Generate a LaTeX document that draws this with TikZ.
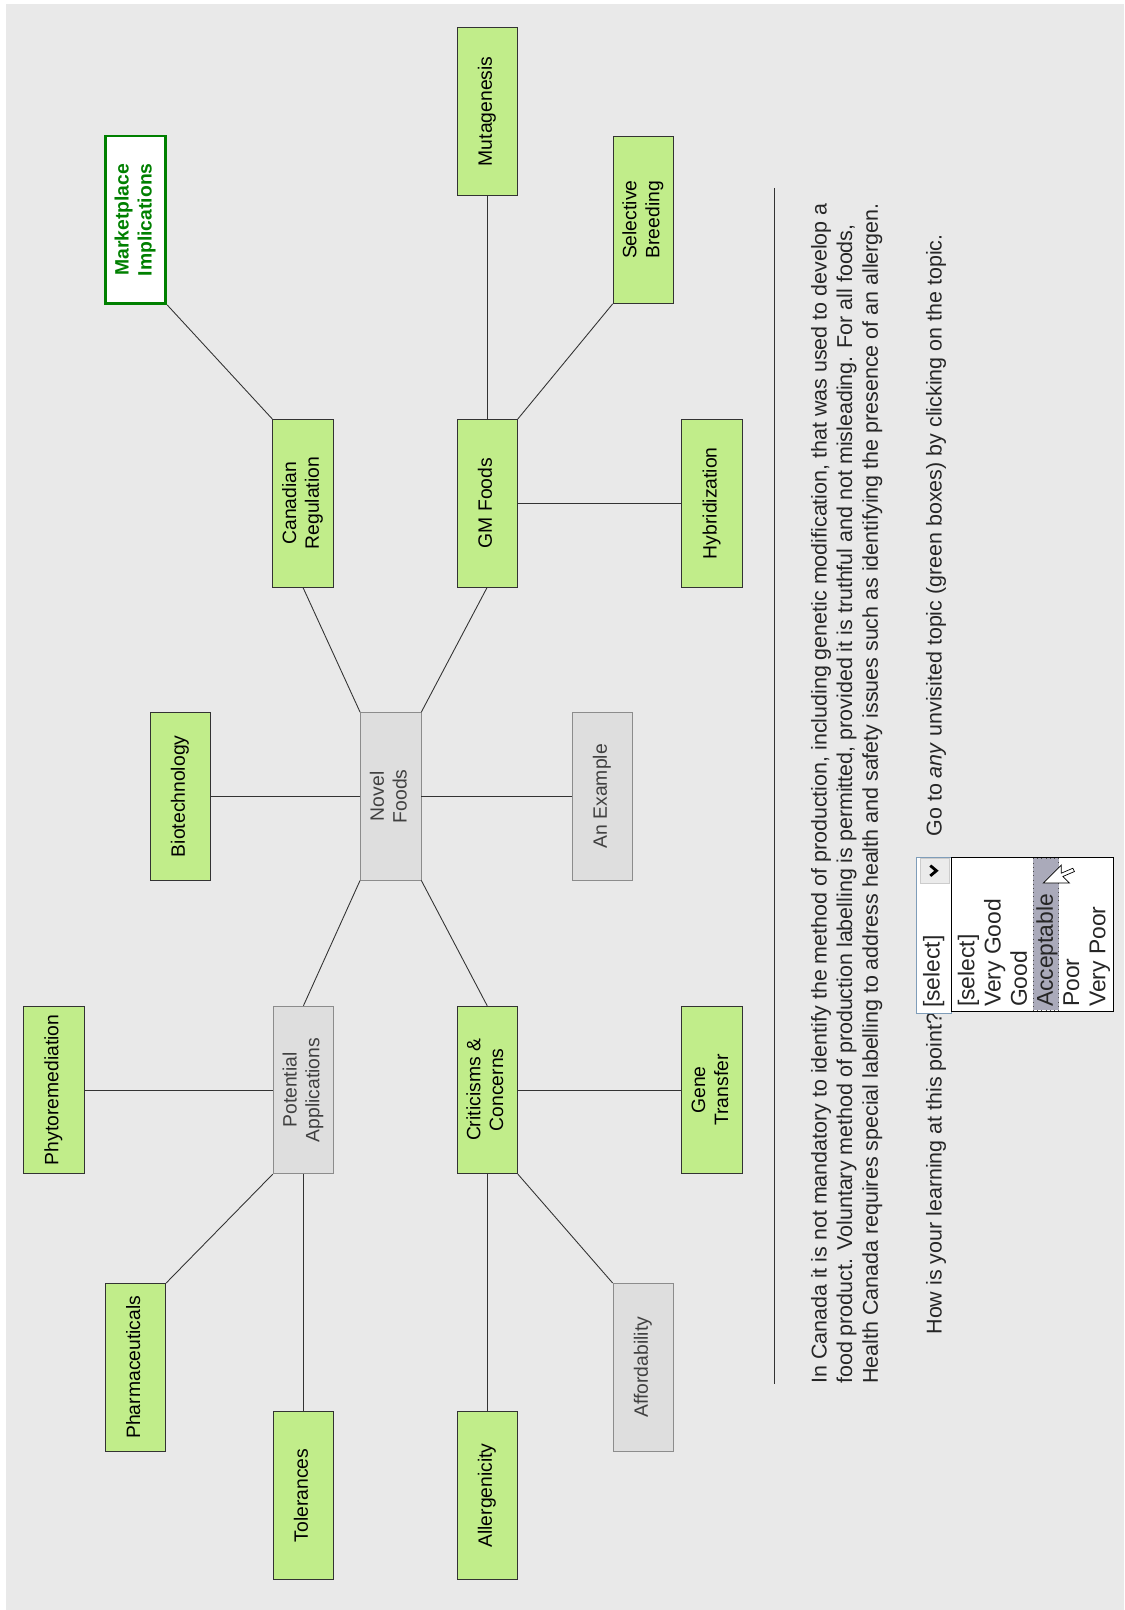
\documentclass[tikz,border=0pt]{standalone}
\usepackage{fontspec}
\setmainfont{Liberation Sans}
\usepackage{graphicx}
\definecolor{bggray}{RGB}{233,233,233}
\definecolor{leaf}{RGB}{193,237,138}
\definecolor{boxgray}{RGB}{222,222,222}
\definecolor{edgegray}{RGB}{140,140,140}
\definecolor{darkgreen}{RGB}{0,128,0}
\definecolor{selblue}{RGB}{127,157,185}
\definecolor{hilite}{RGB}{170,170,186}
\newcommand{\vlab}[1]{\rotatebox{90}{\begin{tabular}{@{}c@{}}#1\end{tabular}}}

\begin{document}
\begin{tikzpicture}[x=0.02053cm,y=-0.02053cm,
    topic/.style={draw=black!80,fill=leaf,minimum width=1.21cm,minimum height=3.35cm,inner sep=0pt,font=\fontsize{11}{13}\selectfont},
    seen/.style={topic,draw=edgegray,fill=boxgray,text=black!75},
    visit/.style={topic,draw=darkgreen,line width=1.6pt,fill=white,text=darkgreen,font=\fontsize{11}{13}\selectfont\bfseries},
    link/.style={draw=black!80,line width=0.5pt},
    para/.style={rotate=90,anchor=base west,inner sep=0pt,font=\fontsize{12.2}{14}\selectfont,text=black!85},
    pick/.style={rotate=90,anchor=base west,inner sep=0pt,font=\fontsize{13}{15}\selectfont,text=black!85}]
        \useasboundingbox[fill=white](0,0)rectangle(1095,1568);
        \path[fill=bggray](5.8,3.9)rectangle(1095,1568);
        % map
        \node[seen](novel)at(380.5,775.5){\vlab{Novel\\Foods}};
        \node[topic](biotech)at(175.5,775.5){\vlab{Biotechnology}};
        \node[seen](example)at(586.5,775.5){\vlab{An Example}};
        \node[topic](canadian)at(295,490){\vlab{Canadian\\Regulation}};
        \node[visit](market)at(132,214){\vlab{Marketplace\\Implications}};
        \node[topic](gm)at(474.5,490){\vlab{GM Foods}};
        \node[topic](muta)at(474.5,108.5){\vlab{Mutagenesis}};
        \node[topic](select)at(626.5,214){\vlab{Selective\\Breeding}};
        \node[topic](hybrid)at(693.5,490){\vlab{Hybridization}};
        \node[seen](potential)at(295.5,1061.5){\vlab{Potential\\Applications}};
        \node[topic](phyto)at(52.5,1061.5){\vlab{Phytoremediation}};
        \node[topic](pharma)at(132,1331.5){\vlab{Pharmaceuticals}};
        \node[topic](toler)at(295.5,1456.5){\vlab{Tolerances}};
        \node[topic](critic)at(474.5,1061.5){\vlab{Criticisms \&\\Concerns}};
        \node[topic](gene)at(693.5,1061.5){\vlab{Gene\\Transfer}};
        \node[seen](afford)at(626.5,1331.5){\vlab{Affordability}};
        \node[topic](allerg)at(474.5,1456.5){\vlab{Allergenicity}};
        % links
        \path[link](novel.west)to(biotech.east);
        \path[link](novel.east)to(example.west);
        \path[link](novel.north west)to(canadian.south);
        \path[link](novel.north east)to(gm.south);
        \path[link](novel.south west)to(potential.north);
        \path[link](novel.south east)to(critic.north);
        \path[link](canadian.north west)to(market.south east);
        \path[link](gm.north)to(muta.south);
        \path[link](gm.north east)to(select.south west);
        \path[link](gm.east)to(hybrid.west);
        \path[link](potential.west)to(phyto.east);
        \path[link](potential.south west)to(pharma.north east);
        \path[link](potential.south)to(toler.north);
        \path[link](critic.east)to(gene.west);
        \path[link](critic.south east)to(afford.north west);
        \path[link](critic.south)to(allerg.north);
        % rule and text
        \coordinate(ruletop)at(754,183);
        \coordinate(rulebot)at(754,1348);
        \path[draw,black!80](ruletop)to(rulebot);
        \node[para](p1)at(805,1348){In Canada it is not mandatory to identify the method of production, including genetic modification, that was used to develop a};
        \node[para](p2)at(830,1348){food product. Voluntary method of production labelling is permitted, provided it is truthful and not misleading. For all foods,};
        \node[para](p3)at(855,1348){Health Canada requires special labelling to address health and safety issues such as identifying the presence of an allergen.};
        \node[para](ask)at(917,1300){How is your learning at this point?};
        \node[para](hint)at(917,815){Go to \emph{any} unvisited topic (green boxes) by clicking on the topic.};
        % drop-down
        \path[draw=selblue,fill=white](892,835)rectangle(927,987);
        \path[draw=black!20,fill=black!8](896,836)rectangle(925,860);
        \path[draw,line width=1.6pt](906,843)--(912,848)--(906,853);
        \node[pick](cur)at(915,982){[select]};
        \path[draw=black,fill=white](927,835)rectangle(1084,985);
        \path[draw=black!70,dotted,fill=hilite](1006,836)rectangle(1031,984);
        \node[pick](o1)at(949,981){[select]};
        \node[pick](o2)at(974.5,981){Very Good};
        \node[pick](o3)at(1000,981){Good};
        \node[pick](o4)at(1025.5,981){Acceptable};
        \node[pick](o5)at(1051,981){Poor};
        \node[pick](o6)at(1076.5,981){Very Poor};
        % pointer
        \path[draw,fill=white,line join=miter](1016,860)--(1041.6,860)--(1035.2,853.6)--(1046.4,848.8)--(1044.8,845.6)--(1033.6,850.4)--(1033.6,842.4)--cycle;
    \end{tikzpicture}
\end{document}
